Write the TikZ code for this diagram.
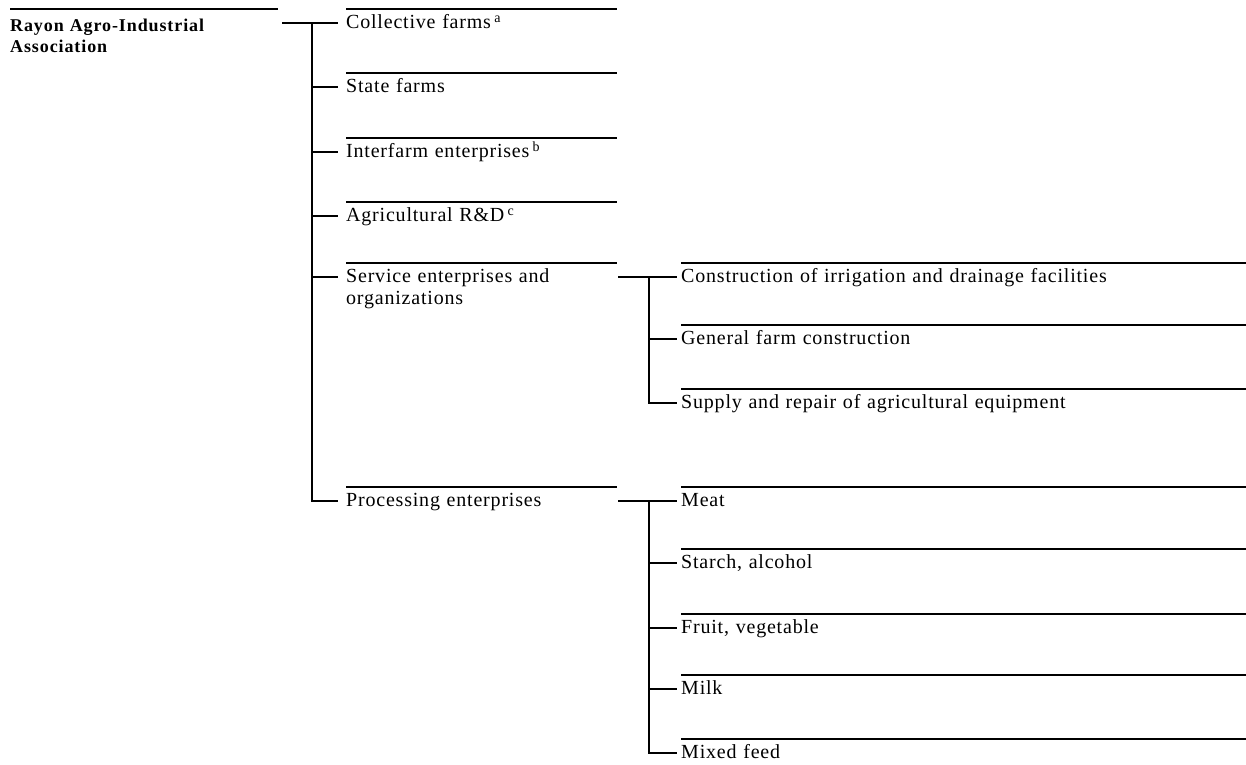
\documentclass[tikz,border=0pt]{standalone}
\usepackage{fontspec}
\setmainfont[LetterSpace=4]{Liberation Serif}
\usetikzlibrary{positioning, calc}

\newcommand{\fnmark}[1]{\,\raisebox{.6ex}{\fontsize{14}{14}\selectfont #1}}

\tikzset{
  item/.style={anchor=base west, inner sep=0pt, align=left, font=\fontsize{20}{22}\selectfont},
  lvone/.style={item, text width=271pt},
  lvtwo/.style={item, text width=565pt},
  rule/.style={line width=1.2pt},
  tick/.style={line width=1.4pt},
  trunk/.style={line width=1.9pt}
}

\begin{document}
\begin{tikzpicture}[x=1pt, y=-1pt]
  \useasboundingbox (0,0) rectangle (1246,764);

  % Association (root)
  \node[item, text width=268pt, font=\bfseries\fontsize{18}{21}\selectfont\addfontfeatures{LetterSpace=5}] (root) at (10,31) {Rayon Agro-Industrial\\Association};
  \draw[rule] ([yshift=22pt]root.base west) -- ([yshift=22pt]root.base east);

  % First level
  \node[lvone] (cf) at (346,28) {Collective farms\fnmark{a}};
  \node[lvone] (sf) at (346,92) {State farms};
  \node[lvone] (ie) at (346,157) {Interfarm enterprises\fnmark{b}};
  \node[lvone] (rd) at (346,221) {Agricultural R\&D\fnmark{c}};
  \node[lvone] (se) at (346,282) {Service enterprises and\\organizations};
  \node[lvone] (pe) at (346,506) {Processing enterprises};

  % Second level (services)
  \node[lvtwo] (cn) at (681,282) {Construction of irrigation and drainage facilities};
  \node[lvtwo] (gc) at (681,344) {General farm construction};
  \node[lvtwo] (sr) at (681,408) {Supply and repair of agricultural equipment};

  % Second level (processing)
  \node[lvtwo] (mt) at (681,506) {Meat};
  \node[lvtwo] (sa) at (681,568) {Starch, alcohol};
  \node[lvtwo] (fv) at (681,633) {Fruit, vegetable};
  \node[lvtwo] (mk) at (681,694) {Milk};
  \node[lvtwo] (mf) at (681,758) {Mixed feed};

  % Rules over the entries
  \foreach \n in {cf,sf,ie,rd,se,pe,cn,gc,sr,mt,sa,fv,mk,mf}
    \draw[rule] ([yshift=19pt]\n.base west) -- ([yshift=19pt]\n.base east);

  % Where the connectors meet the entries
  \foreach \n in {cf,sf,ie,rd,se,pe}
    \coordinate (\n-in) at ([shift={(-8pt,5pt)}]\n.base west);
  \foreach \n in {cn,gc,sr,mt,sa,fv,mk,mf}
    \coordinate (\n-in) at ([shift={(-4pt,5pt)}]\n.base west);

  % Main trunk
  \coordinate (j1) at ($(root.base east)!.5!(cf.base west)$);
  \draw[tick] ([shift={(4pt,8pt)}]root.base east) -- (cf-in);
  \draw[trunk] (j1 |- cf-in) -- (j1 |- pe-in) -- (pe-in);
  \foreach \n in {sf,ie,rd,se}
    \draw[tick] (j1 |- \n-in) -- (\n-in);

  % Service branch
  \coordinate (j2) at ($(se.base east)!.5!(cn.base west)$);
  \draw[tick] ([shift={(1pt,5pt)}]se.base east) -- (cn-in);
  \draw[trunk] (j2 |- cn-in) -- (j2 |- sr-in) -- (sr-in);
  \draw[tick] (j2 |- gc-in) -- (gc-in);

  % Processing branch
  \coordinate (j3) at ($(pe.base east)!.5!(mt.base west)$);
  \draw[tick] ([shift={(1pt,5pt)}]pe.base east) -- (mt-in);
  \draw[trunk] (j3 |- mt-in) -- (j3 |- mf-in) -- (mf-in);
  \foreach \n in {sa,fv,mk}
    \draw[tick] (j3 |- \n-in) -- (\n-in);
\end{tikzpicture}
\end{document}
